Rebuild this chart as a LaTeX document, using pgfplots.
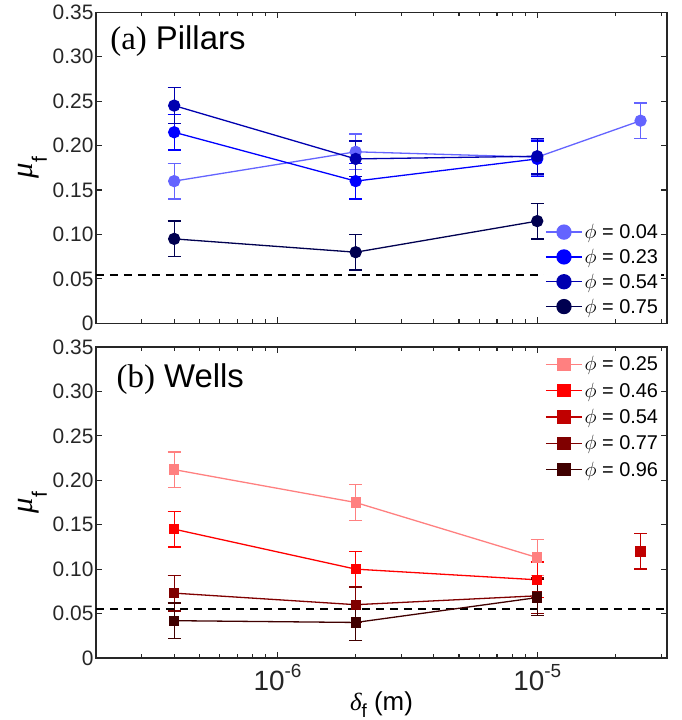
\documentclass[border=0pt]{standalone}
\usepackage{pgfplots}
\pgfplotsset{compat=1.18}
\usepackage{fontspec}
\setmainfont{Liberation Sans}
\newfontfamily\tnr{Liberation Serif}
\definecolor{axgray}{HTML}{262626}
\definecolor{bA}{HTML}{6464FF}
\definecolor{bB}{HTML}{0000FF}
\definecolor{bC}{HTML}{0000B0}
\definecolor{bD}{HTML}{000050}
\definecolor{rA}{HTML}{FF8080}
\definecolor{rB}{HTML}{FF0000}
\definecolor{rC}{HTML}{C00000}
\definecolor{rD}{HTML}{800000}
\definecolor{rE}{HTML}{400000}
\pgfplotsset{
  every axis/.append style={
    scale only axis, width=571bp, height=311bp,
    xmin=2e-7, xmax=3.16e-5, ymin=0, ymax=0.35,
    ytick={0,0.05,0.1,0.15,0.2,0.25,0.3,0.35},
    yticklabels={0,0.05,0.10,0.15,0.20,0.25,0.30,0.35},
    xtick={1e-6,1e-5},
    minor xtick={3e-7,4e-7,5e-7,6e-7,7e-7,8e-7,9e-7,2e-6,3e-6,4e-6,5e-6,6e-6,7e-6,8e-6,9e-6,2e-5,3e-5},
    major tick length=6bp, minor tick length=4bp,
    axis line style={draw=axgray, line width=1.1bp},
    every tick/.style={axgray, line width=1.1bp},
    yticklabel style={font=\fontsize{21}{21}\selectfont, text=axgray, xshift=1bp},
    xticklabel style={font=\fontsize{28}{28}\selectfont, text=axgray, yshift=-3bp},
    ylabel={{\fontsize{31}{31}\selectfont\tnr\itshape μ}\raisebox{-14bp}{\fontsize{21}{21}\selectfont f}},
    ylabel style={yshift=-1bp},
    legend cell align=left,
    clip=false,
  },
}
\begin{document}
\begin{tikzpicture}
\useasboundingbox (0bp,0bp) rectangle (682bp,720bp);
% (a) Pillars
\begin{semilogxaxis}[at={(96bp,396.7bp)}, anchor=south west,
  xticklabels={},
  legend style={at={(rel axis cs:0.99,0.018)}, anchor=south east, draw=none, fill=white,
    font=\fontsize{20}{20}\selectfont, inner sep=1bp, row sep=5bp},
  legend image code/.code={\draw[mark repeat=2, mark phase=2, mark size=7bp] plot coordinates {(0bp,0bp) (18bp,0bp) (36bp,0bp)};},
  every axis plot/.append style={line width=1.3bp, mark=*, mark size=5.5bp,
    error bars/y dir=both, error bars/y explicit,
    error bars/error bar style={line width=1.3bp},
    error bars/error mark options={rotate=90, mark size=6.5bp, line width=1.3bp}}]
\addplot[black, line width=1.8bp, dash pattern=on 8bp off 6bp, mark=none, forget plot] coordinates {(2e-7,0.054) (3.16e-5,0.054)};
\addplot[color=bA, mark options={solid, fill=bA}] coordinates {(4e-7,0.160) +- (0,0.02) (2e-6,0.193) +- (0,0.02) (1e-5,0.187) +- (0,0.02) (2.5e-5,0.228) +- (0,0.02)};
\addlegendentry{$\phi$ = 0.04}
\addplot[color=bB, mark options={solid, fill=bB}] coordinates {(4e-7,0.215) +- (0,0.02) (2e-6,0.160) +- (0,0.02) (1e-5,0.185) +- (0,0.02)};
\addlegendentry{$\phi$ = 0.23}
\addplot[color=bC, mark options={solid, fill=bC}] coordinates {(4e-7,0.245) +- (0,0.02) (2e-6,0.185) +- (0,0.02) (1e-5,0.188) +- (0,0.02)};
\addlegendentry{$\phi$ = 0.54}
\addplot[color=bD, mark options={solid, fill=bD}] coordinates {(4e-7,0.095) +- (0,0.02) (2e-6,0.080) +- (0,0.02) (1e-5,0.115) +- (0,0.02)};
\addlegendentry{$\phi$ = 0.75}
\node[anchor=base west, font=\fontsize{33}{33}\selectfont] at (rel axis cs:0.019,0.879) {{\tnr (a)} Pillars};
\end{semilogxaxis}
% (b) Wells
\begin{semilogxaxis}[at={(96bp,62bp)}, anchor=south west,
  xticklabels={10\raisebox{13bp}{\fontsize{19}{19}\selectfont -6}, 10\raisebox{13bp}{\fontsize{19}{19}\selectfont -5}},
  xlabel={{\fontsize{25}{25}\selectfont\tnr\itshape δ}\raisebox{-7bp}{\fontsize{19}{19}\selectfont f}\fontsize{26}{26}\selectfont{} (m)},
  xlabel style={yshift=6bp},
  legend style={at={(rel axis cs:0.99,0.98)}, anchor=north east, draw=none, fill=white,
    font=\fontsize{20}{20}\selectfont, inner sep=1bp, row sep=6.5bp},
  legend image code/.code={\draw[mark repeat=2, mark phase=2, mark size=6bp] plot coordinates {(0bp,0bp) (18bp,0bp) (36bp,0bp)};},
  every axis plot/.append style={line width=1.3bp, mark=square*, mark size=4.5bp,
    error bars/y dir=both, error bars/y explicit,
    error bars/error bar style={line width=1.3bp},
    error bars/error mark options={rotate=90, mark size=6.5bp, line width=1.3bp}}]
\addplot[black, line width=1.8bp, dash pattern=on 8bp off 6bp, mark=none, forget plot] coordinates {(2e-7,0.055) (3.16e-5,0.055)};
\addplot[color=rA, mark options={solid, fill=rA}] coordinates {(4e-7,0.212) +- (0,0.02) (2e-6,0.175) +- (0,0.02) (1e-5,0.113) +- (0,0.02)};
\addlegendentry{$\phi$ = 0.25}
\addplot[color=rB, mark options={solid, fill=rB}] coordinates {(4e-7,0.145) +- (0,0.02) (2e-6,0.100) +- (0,0.02) (1e-5,0.088) +- (0,0.02)};
\addlegendentry{$\phi$ = 0.46}
\addplot[color=rC, mark options={solid, fill=rC}] coordinates {(2.5e-5,0.120) +- (0,0.02)};
\addlegendentry{$\phi$ = 0.54}
\addplot[color=rD, mark options={solid, fill=rD}] coordinates {(4e-7,0.073) +- (0,0.02) (2e-6,0.060) +- (0,0.02) (1e-5,0.070) +- (0,0.02)};
\addlegendentry{$\phi$ = 0.77}
\addplot[color=rE, mark options={solid, fill=rE}] coordinates {(4e-7,0.042) +- (0,0.02) (2e-6,0.040) +- (0,0.02) (1e-5,0.068) +- (0,0.02)};
\addlegendentry{$\phi$ = 0.96}
\node[anchor=base west, font=\fontsize{33}{33}\selectfont] at (rel axis cs:0.03,0.87) {{\tnr (b)} Wells};
\end{semilogxaxis}
\end{tikzpicture}
\end{document}
